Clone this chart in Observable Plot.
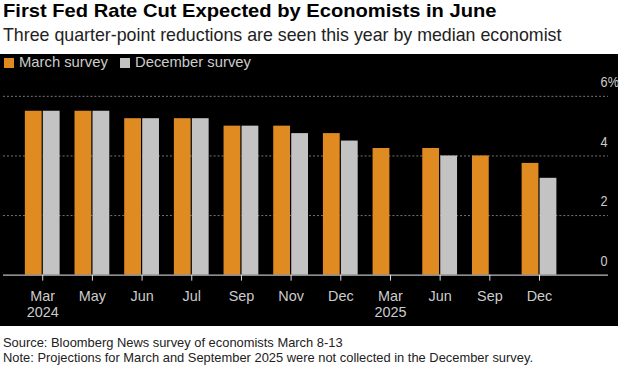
<!DOCTYPE html>
<html>
<head>
<meta charset="utf-8">
<script src="https://cdn.jsdelivr.net/npm/d3@7"></script>
<script src="https://cdn.jsdelivr.net/npm/@observablehq/plot@0.6"></script>
<style>
  html, body { margin: 0; padding: 0; background: #fff; }
  body { width: 622px; height: 365px; overflow: hidden; font-family: "Liberation Sans", Arial, sans-serif; }
  .sx { transform-origin: 0 50%; white-space: nowrap; position: absolute; }
  #title { left: 3px; top: 0px; font-weight: bold; font-size: 19px; color: #000; transform: scaleX(1.06); }
  #subtitle { left: 3px; top: 25px; font-size: 17.8px; color: #222; }
  #panel { position: absolute; left: 0; top: 54px; width: 618px; height: 272px; background: #000; }
  .sw { position: absolute; top: 4px; width: 10px; height: 10px; }
  .lg { top: 0px; font-size: 14.8px; color: #ccc; }
  #chart { position: absolute; left: 0; top: 18px; }
  #footer { left: 3px; top: 335px; font-size: 12.9px; color: #222; line-height: 15px; }
</style>
</head>
<body>
<div id="title" class="sx">First Fed Rate Cut Expected by Economists in June</div>
<div id="subtitle" class="sx">Three quarter-point reductions are seen this year by median economist</div>
<div id="panel">
  <div class="sw" style="left:4px;background:#e08b22"></div>
  <div class="sx lg" style="left:19px">March survey</div>
  <div class="sw" style="left:120px;background:#c3c3c3"></div>
  <div class="sx lg" style="left:135px">December survey</div>
  <div id="chart"></div>
</div>
<div id="footer" class="sx">Source: Bloomberg News survey of economists March 8-13<br>Note: Projections for March and September 2025 were not collected in the December survey.</div>
<script>
const months = ["Mar","May","Jun","Jul","Sep","Nov","Dec","Mar","Jun","Sep","Dec"];
const years = ["2024","","","","","","","2025","","",""];
const marchSurvey = [5.5,5.5,5.25,5.25,5.0,5.0,4.75,4.25,4.25,4.0,3.75];
const decemberSurvey = [5.5,5.5,5.25,5.25,5.0,4.75,4.5,null,4.0,null,3.25];
const yTicks = [0,2,4,6];

const keys = months.map((m,i) => i + ":" + m);
const labelOf = new Map(keys.map((k,i) => [k, years[i] ? months[i] + "\n" + years[i] : months[i]]));
const marchData = keys.map((k,i) => ({key:k, value:marchSurvey[i]}));
const decData = keys.map((k,i) => ({key:k, value:decemberSurvey[i]})).filter(d => d.value != null);

const orange = "#e08b22", gray = "#c3c3c3";

const chart = Plot.plot({
  width: 622,
  height: 254,
  marginLeft: 3,
  marginRight: 10,
  marginTop: 24,
  marginBottom: 50,
  style: {background: "transparent", color: "#ccc", fontFamily: "'Liberation Sans', Arial, sans-serif", fontSize: "15px", overflow: "visible"},
  x: {domain: keys, range: [9.3, 575.8], padding: 0.3, align: 0.5},
  y: {domain: [0, 6]},
  marks: [
    Plot.ruleY(yTicks.filter(t => t > 0), {stroke: "#777", strokeDasharray: "2,2", strokeWidth: 1}),
    Plot.barY(marchData, {x: "key", y: "value", fill: orange, insetRight: 18.1, insetLeft: 0}),
    Plot.barY(decData, {x: "key", y: "value", fill: gray, insetLeft: 18.1, insetRight: 0}),
    Plot.ruleY([0], {stroke: "#bbb", strokeWidth: 1.2}),
    Plot.axisX({tickSize: 6, tickPadding: 8, stroke: "#ddd", fill: "#ccc", tickFormat: k => labelOf.get(k), lineHeight: 1.15, fontSize: 14.5, label: null}),
    Plot.axisY(yTicks, {anchor: "right", tickSize: 0, tickPadding: 0, textAnchor: "start", dx: -8, dy: -14, fill: "#ccc", fontSize: 15, tickFormat: d => d === 6 ? "6%" : String(d), label: null})
  ]
});
// the reference's y-axis digits are narrower than Arial's
d3.select(chart).selectAll("g[aria-label='y-axis tick label'] text").each(function() {
  const t = this.getAttribute("transform") || "";
  this.setAttribute("transform", t + " scale(0.85,1)");
});
document.getElementById("chart").appendChild(chart);
</script>
</body>
</html>
